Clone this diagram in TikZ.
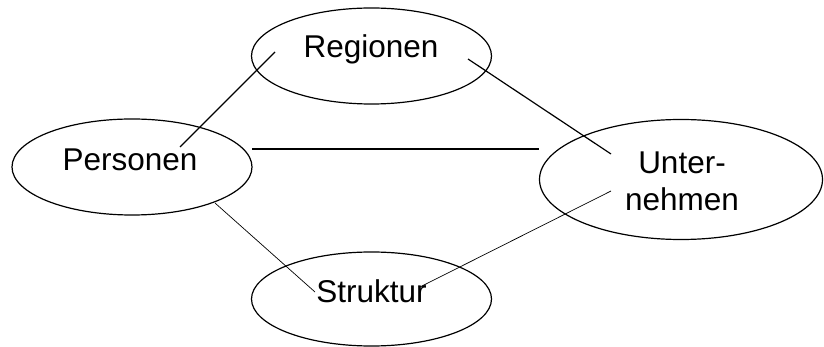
\documentclass[tikz,border=0pt]{standalone}
\usepackage{fontspec}
\setmainfont{Liberation Sans}
\usetikzlibrary{shapes.geometric}
\begin{document}
\begin{tikzpicture}[x=1pt,y=-1pt,
  ent/.style={draw,ellipse,line width=1.2pt,inner sep=0pt},
  lbl/.style={font=\fontsize{31.5}{37}\selectfont,inner sep=0pt,align=center},
  thickline/.style={line width=1.2pt},
  thinline/.style={line width=0.7pt}]
\useasboundingbox (0,0) rectangle (824,347);
\node[ent,minimum width=240pt,minimum height=96pt] (R) at (371.5,56) {};
\node[ent,minimum width=240pt,minimum height=96pt] (P) at (132,167) {};
\node[ent,minimum width=283pt,minimum height=120pt] (U) at (681,179.5) {};
\node[ent,minimum width=240pt,minimum height=94pt] (S) at (371.5,299) {};
\node[lbl] (Rt) at (371,49.5) {Regionen};
\node[lbl] (Pt) at (130,160) {Personen};
\node[lbl] (Ut) at (682,181.5) {Unter-\\nehmen};
\node[lbl] (St) at (371.5,291) {Struktur};
\coordinate (pr) at (180,147);
\coordinate (rp) at (275,52);
\coordinate (pu) at (252,149);
\coordinate (up) at (539,149);
\coordinate (ru) at (468,59);
\coordinate (ur) at (611,154);
\coordinate (ps) at (215,203);
\coordinate (sp) at (315,292);
\coordinate (su) at (420,287);
\coordinate (us) at (611,191);
\draw[thickline] (pr) -- (rp);
\draw[thickline] (pu) -- (up);
\draw[thickline] (ru) -- (ur);
\draw[thinline] (ps) -- (sp);
\draw[thinline] (su) -- (us);
\end{tikzpicture}
\end{document}
